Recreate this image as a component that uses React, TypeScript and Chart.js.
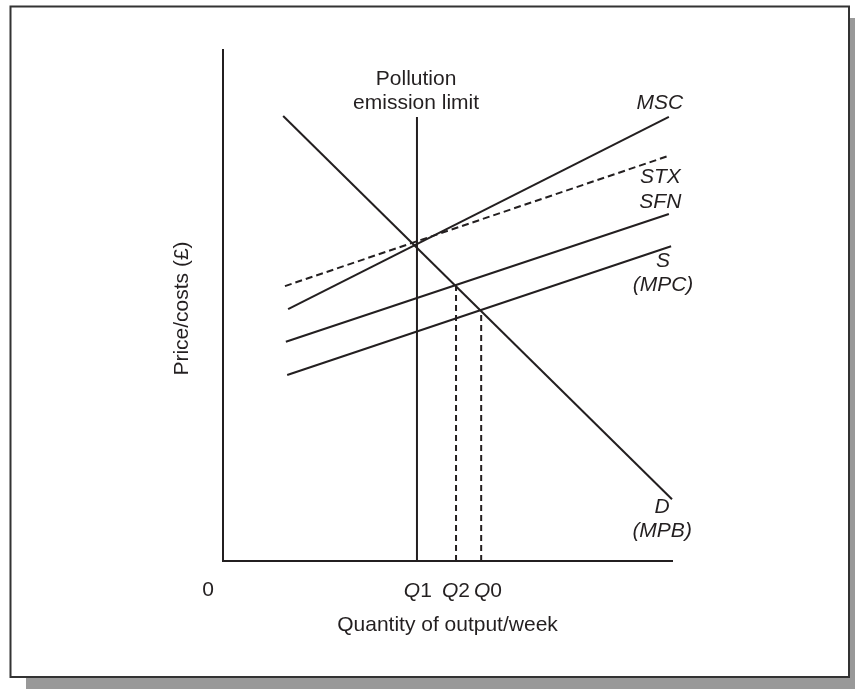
import React, { useEffect, useRef } from "react";
import { Chart, registerables } from "chart.js";

Chart.register(...registerables);

// ---- data (arbitrary units: quantity 0-100, price 0-100) ----
const xMin = 0;
const xMax = 100;
const yMin = 0;
const yMax = 100;

const demandX = [13.4, 100];
const demandY = [87.1, 12.1];

const mscX = [14.5, 99.3];
const mscY = [49.3, 86.9];

const stxX = [13.8, 99.3];
const stxY = [53.8, 79.3];

const sfnX = [14.0, 99.3];
const sfnY = [42.9, 67.9];

const mpcX = [14.3, 99.8];
const mpcY = [36.4, 61.6];

const limitX = [43.2, 43.2];
const limitY = [0, 86.9];

const q2X = [51.9, 51.9];
const q2Y = [0, 53.9];

const q0X = [57.5, 57.5];
const q0Y = [0, 49.1];

const qLabels = ["1", "2", "0"];
const qLabelX = [43.4, 51.9, 59.0];

const INK = "#231f20";
const FONT = '"Liberation Sans", Arial, Helvetica, sans-serif';
const FS = 21;

type Lbl = { lines: string[]; x: number; y: number; italic: boolean };
const curveLabels: Lbl[] = [
  { lines: ["Pollution", "emission limit"], x: 43.0, y: 94.3, italic: false },
  { lines: ["MSC"], x: 97.3, y: 89.6, italic: true },
  { lines: ["STX", "SFN"], x: 97.4, y: 75.1, italic: true },
  { lines: ["S", "(MPC)"], x: 98.0, y: 58.7, italic: true },
  { lines: ["D", "(MPB)"], x: 97.8, y: 10.6, italic: true },
];

const pts = (xs: number[], ys: number[]) => xs.map((x, i) => ({ x, y: ys[i] }));

const framePlugin = {
  id: "frame",
  beforeDraw(chart: any) {
    const ctx = chart.ctx;
    ctx.save();
    ctx.fillStyle = "#999999";
    ctx.fillRect(26, 18, 838, 671);
    ctx.fillStyle = "#ffffff";
    ctx.fillRect(10.5, 6.5, 838.5, 670.5);
    ctx.strokeStyle = "#333333";
    ctx.lineWidth = 2;
    ctx.strokeRect(10.5, 6.5, 838.5, 670.5);
    ctx.restore();
  },
};

const labelPlugin = {
  id: "labels",
  afterDraw(chart: any) {
    const ctx = chart.ctx;
    const xs = chart.scales.x;
    const ys = chart.scales.y;
    const area = chart.chartArea;
    ctx.save();
    ctx.fillStyle = INK;
    ctx.textBaseline = "middle";
    ctx.textAlign = "center";
    const lh = 24.5;
    curveLabels.forEach((l) => {
      ctx.font = `${l.italic ? "italic " : ""}${FS}px ${FONT}`;
      const px = xs.getPixelForValue(l.x);
      const py = ys.getPixelForValue(l.y);
      l.lines.forEach((t, i) => ctx.fillText(t, px, py + i * lh));
    });

    // Q labels below the axis
    const qy = area.bottom + 30;
    qLabels.forEach((n, i) => {
      ctx.font = `italic ${FS}px ${FONT}`;
      const wq = ctx.measureText("Q").width;
      ctx.font = `${FS}px ${FONT}`;
      const wn = ctx.measureText(n).width;
      const cx = xs.getPixelForValue(qLabelX[i]);
      const left = cx - (wq + wn) / 2;
      ctx.textAlign = "left";
      ctx.font = `italic ${FS}px ${FONT}`;
      ctx.fillText("Q", left, qy);
      ctx.font = `${FS}px ${FONT}`;
      ctx.fillText(n, left + wq, qy);
    });

    // origin
    ctx.textAlign = "center";
    ctx.font = `${FS}px ${FONT}`;
    ctx.fillText("0", area.left - 15, qy - 1);

    // axis titles
    ctx.fillText("Quantity of output/week", (area.left + area.right) / 2, area.bottom + 64);
    ctx.save();
    ctx.translate(area.left - 41, (area.top + area.bottom) / 2 + 3);
    ctx.rotate(-Math.PI / 2);
    ctx.fillText("Price/costs (£)", 0, 0);
    ctx.restore();
    ctx.restore();
  },
};

export default function App() {
  const ref = useRef<HTMLCanvasElement>(null);
  useEffect(() => {
    if (!ref.current) return;
    const solid = (data: any) => ({
      data,
      borderColor: INK,
      borderWidth: 2,
      showLine: true,
      pointRadius: 0,
      fill: false,
      clip: false as any,
    });
    const chart = new Chart(ref.current, {
      type: "scatter",
      data: {
        datasets: [
          solid(pts(demandX, demandY)),
          solid(pts(mscX, mscY)),
          { ...solid(pts(stxX, stxY)), borderDash: [7, 4] },
          solid(pts(sfnX, sfnY)),
          solid(pts(mpcX, mpcY)),
          solid(pts(limitX, limitY)),
          { ...solid(pts(q2X, q2Y)), borderDash: [6, 4] },
          { ...solid(pts(q0X, q0Y)), borderDash: [6, 4] },
        ],
      },
      options: {
        responsive: false,
        animation: false,
        devicePixelRatio: 1,
        layout: { padding: { left: 223, top: 50, right: 183, bottom: 128 } },
        plugins: { legend: { display: false }, tooltip: { enabled: false } },
        events: [],
        scales: {
          x: {
            type: "linear",
            min: xMin,
            max: xMax,
            grid: { display: false, drawTicks: false },
            ticks: { display: false },
            border: { display: true, color: INK, width: 2 },
          },
          y: {
            type: "linear",
            min: yMin,
            max: yMax,
            grid: { display: false, drawTicks: false },
            ticks: { display: false },
            border: { display: true, color: INK, width: 2 },
          },
        },
      },
      plugins: [framePlugin, labelPlugin],
    });
    return () => chart.destroy();
  }, []);
  return (
    <div style={{ position: "fixed", left: 0, top: 0, width: 855, height: 689 }}>
      <canvas ref={ref} width={855} height={689} style={{ display: "block" }} />
    </div>
  );
}
